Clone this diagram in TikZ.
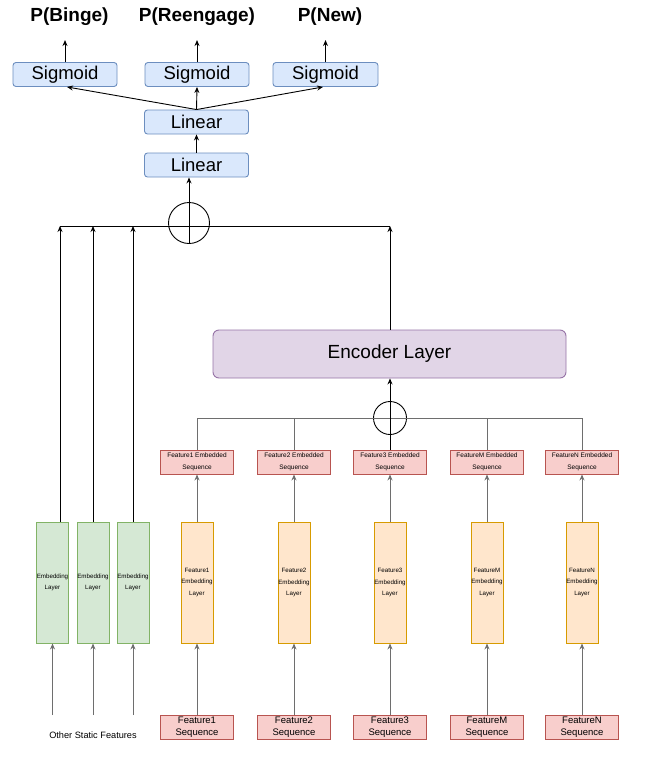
\documentclass[tikz,border=0pt]{standalone}
\usepackage{fontspec}
\setmainfont{Liberation Sans}
\usetikzlibrary{arrows.meta}
\definecolor{blueFill}{HTML}{DAE8FC}
\definecolor{blueLine}{HTML}{6C8EBF}
\definecolor{pinkFill}{HTML}{F8CECC}
\definecolor{pinkLine}{HTML}{B85450}
\definecolor{orangeFill}{HTML}{FFE6CC}
\definecolor{orangeLine}{HTML}{D79B00}
\definecolor{greenFill}{HTML}{D5E8D4}
\definecolor{greenLine}{HTML}{82B366}
\definecolor{purpleFill}{HTML}{E1D5E7}
\definecolor{purpleLine}{HTML}{9673A6}
\definecolor{wireGray}{HTML}{6E6E6E}
\tikzset{
	plainbox/.style={draw, line width=0.9pt, inner sep=0pt, align=center},
	headbox/.style={plainbox, fill=blueFill, draw=blueLine, rounded corners=3pt, minimum width=104pt, minimum height=24pt, font=\fontsize{18.5}{20}\selectfont},
	seqbox/.style={plainbox, fill=pinkFill, draw=pinkLine, minimum width=73pt, minimum height=24pt},
	embbox/.style={plainbox, minimum width=32pt, minimum height=121pt, font=\fontsize{6.2}{11.5}\selectfont},
	sumnode/.style={draw, circle, inner sep=0pt, line width=0.9pt},
	arr/.style={-{Stealth[length=6pt,width=5pt]}, line width=0.9pt},
	wire/.style={line width=0.9pt, draw=wireGray},
}
\begin{document}
\begin{tikzpicture}[x=1pt, y=-1pt]
	\useasboundingbox (0,0) rectangle (646,758);

	\node (pb) [font=\fontsize{19}{21}\selectfont\bfseries] at (69.5,17) {P(Binge)};
	\node (pr) [font=\fontsize{19}{21}\selectfont\bfseries] at (197,17) {P(Reengage)};
	\node (pn) [font=\fontsize{19}{21}\selectfont\bfseries] at (330,17) {P(New)};

	\node (sig1) [headbox] at (65,74.5) {Sigmoid};
	\node (sig2) [headbox] at (197,74.5) {Sigmoid};
	\node (sig3) [headbox, minimum width=105pt] at (325.5,74.5) {Sigmoid};
	\node (lin1) [headbox] at (196.5,122) {Linear};
	\node (lin2) [headbox] at (196.5,165) {Linear};

	\draw [arr] (sig1.north) -- ++(0,-22);
	\draw [arr] (sig2.north) -- ++(0,-22);
	\draw [arr] (sig3.north) -- ++(0,-22);
	\draw [arr] (lin1.north) -- (sig1.south -| 67,0);
	\draw [arr] (lin1.north) -- (sig2.south);
	\draw [arr] (lin1.north) -- (sig3.south -| 323,0);
	\draw [arr] (lin2.north) -- (lin1.south);

	\node (sum1) [sumnode, minimum size=41pt] at (189,223) {};
	\coordinate (bus1w) at (60,226);
	\coordinate (bus1e) at (390,226);
	\draw [line width=0.9pt] (bus1w) -- (bus1e);
	\draw [arr] (sum1.south) -- (sum1.south |- lin2.south);

	\node (enc) [plainbox, fill=purpleFill, draw=purpleLine, rounded corners=6pt, minimum width=353pt, minimum height=48pt, font=\fontsize{19}{21}\selectfont] at (389.5,354) {Encoder Layer};
	\draw [arr] (enc.north -| bus1e) -- (bus1e);

	\node (sum2) [sumnode, minimum size=33pt] at (390,418) {};
	\coordinate (bus2w) at (197,418);
	\coordinate (bus2e) at (582,418);
	\draw [wire] (bus2w) -- (bus2e);

	\foreach \i/\x/\lab in {1/197/Feature1, 2/294/Feature2, 3/390/Feature3, 4/487/FeatureM, 5/582/FeatureN} {
		\node (seq\i) [seqbox, font=\fontsize{9.5}{12}\selectfont] at (\x,727) {\lab\\Sequence};
		\node (emb\i) [embbox, fill=orangeFill, draw=orangeLine] at (\x,582.5) {\lab\\Embedding\\Layer};
		\node (es\i) [seqbox, font=\fontsize{6.5}{12}\selectfont] at (\x,462) {\lab{} Embedded\\Sequence};
		\draw [arr, draw=wireGray] (seq\i.north) -- (emb\i.south);
		\draw [arr, draw=wireGray] (emb\i.north) -- (es\i.south);
		\draw [wire] (es\i.north) -- (es\i.north |- bus2w);
	}
	\draw [arr] (es3.north) -- (enc.south -| es3);

	\foreach \i/\x in {1/52.5, 2/93, 3/133} {
		\node (green\i) [embbox, fill=greenFill, draw=greenLine] at (\x,582.5) {Embedding\\Layer};
		\coordinate (in\i) at (\x,715);
		\draw [arr, draw=wireGray] (in\i) -- (green\i.south);
	}
	\draw [arr] ([xshift=7.5pt]green1.north) -- (bus1w);
	\draw [arr] (green2.north) -- (green2.north |- bus1w);
	\draw [arr] (green3.north) -- (green3.north |- bus1w);

	\node (other) [font=\fontsize{9.2}{11}\selectfont] at (93,735) {Other Static Features};
\end{tikzpicture}
\end{document}
